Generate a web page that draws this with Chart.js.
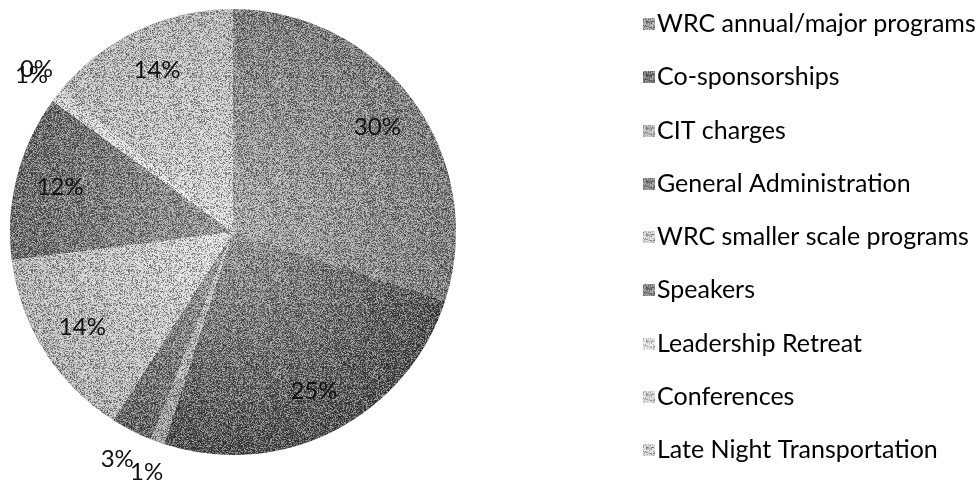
<!DOCTYPE html>
<html>
<head>
<meta charset="utf-8">
<title>WRC budget breakdown</title>
<script src="https://cdn.jsdelivr.net/npm/chart.js@4.4.1/dist/chart.umd.min.js"></script>
<style>
  html, body { margin: 0; padding: 0; background: #fff; }
  #wrap { width: 977px; height: 481px; position: relative; }
</style>
</head>
<body>
<div id="wrap"><canvas id="myChart"></canvas></div>
<script>
const categories = [
  "WRC annual/major programs",
  "Co-sponsorships",
  "CIT charges",
  "General Administration",
  "WRC smaller scale programs",
  "Speakers",
  "Leadership Retreat",
  "Conferences",
  "Late Night Transportation"
];
const shares = [30, 25, 1, 3, 14, 12, 1, 0, 14];
const shareLabels = ["30%", "25%", "1%", "3%", "14%", "12%", "1%", "0%", "14%"];

// grey shades: light toward the centre, darker at the rim
const innerGreys = ["#b2b2b2", "#9c9c9c", "#dadada", "#acacac", "#e8e8e8", "#a0a0a0", "#fafafa", "#f0f0f0", "#e2e2e2"];
const outerGreys = ["#7c7c7c", "#4a4a4a", "#9c9c9c", "#5e5e5e", "#b8b8b8", "#666666", "#d8d8d8", "#c4c4c4", "#bcbcbc"];
const swatchGreys = ["#969696", "#6a6a6a", "#b8b8b8", "#808080", "#d0d0d0", "#7c7c7c", "#e6e6e6", "#d8d8d8", "#d4d4d4"];

const FONT = "Lato, 'Open Sans', sans-serif";
const LEGEND_SIZE = 25;

// fixed grain texture, like the scanned print
function grain(px, py) {
  const s = Math.sin(px * 12.9898 + py * 78.233) * 43758.5453;
  return s - Math.floor(s);
}
function makeGrain(size, amount) {
  const c = document.createElement("canvas");
  c.width = size;
  c.height = size;
  const g = c.getContext("2d");
  const img = g.createImageData(size, size);
  for (let py = 0; py < size; py++) {
    for (let px = 0; px < size; px++) {
      const v = grain(px, py);
      const k = (py * size + px) * 4;
      const light = v > 0.5;
      img.data[k] = img.data[k + 1] = img.data[k + 2] = light ? 255 : 0;
      img.data[k + 3] = Math.round(Math.abs(v - 0.5) * 2 * amount * 255);
    }
  }
  g.putImageData(img, 0, 0);
  return c;
}
const grainTile = makeGrain(97, 0.5);

function sliceFill(context) {
  const i = context.dataIndex;
  const area = context.chart.chartArea;
  if (!area) return swatchGreys[i];
  const cx = (area.left + area.right) / 2;
  const cy = (area.top + area.bottom) / 2;
  const r = Math.min(area.width, area.height) / 2;
  const g = context.chart.ctx.createRadialGradient(cx, cy, 0, cx, cy, r);
  g.addColorStop(0, innerGreys[i]);
  g.addColorStop(1, outerGreys[i]);
  return g;
}

// small grainy squares for the legend, placed at the right of a wider image
function makeSwatch(color) {
  const w = 22;
  const c = document.createElement("canvas");
  c.width = w;
  c.height = 12;
  const x = c.getContext("2d");
  x.fillStyle = color;
  x.fillRect(w - 12, 0, 12, 12);
  x.fillStyle = x.createPattern(grainTile, "repeat");
  x.fillRect(w - 12, 0, 12, 12);
  return c;
}
const swatches = swatchGreys.map(makeSwatch);

// put the pie on the left and the legend column on the right
const placeBoxes = {
  id: "placeBoxes",
  afterLayout(chart) {
    chart.chartArea = { left: 10, top: 9, right: 456, bottom: 455, width: 446, height: 446 };
    const lg = chart.legend;
    const pad = lg.options.labels.padding;
    lg.left = 643.5 - pad;
    lg.right = 977;
    lg.top = 24 - LEGEND_SIZE / 2 - pad;
    lg.bottom = 600;
  }
};

const pieGrain = {
  id: "pieGrain",
  afterDatasetsDraw(chart) {
    const arc = chart.getDatasetMeta(0).data[0];
    if (!arc) return;
    const p = arc.getProps(["x", "y", "outerRadius"], true);
    const ctx = chart.ctx;
    ctx.save();
    ctx.beginPath();
    ctx.arc(p.x, p.y, p.outerRadius, 0, Math.PI * 2);
    ctx.fillStyle = ctx.createPattern(grainTile, "repeat");
    ctx.fill();
    ctx.restore();
  }
};

const pctLabels = {
  id: "pctLabels",
  afterDatasetsDraw(chart) {
    const ctx = chart.ctx;
    const arcs = chart.getDatasetMeta(0).data;
    ctx.save();
    ctx.font = "24px " + FONT;
    ctx.fillStyle = "#111";
    ctx.textAlign = "center";
    ctx.textBaseline = "middle";
    arcs.forEach((arc, i) => {
      const p = arc.getProps(["x", "y", "startAngle", "endAngle", "outerRadius"], true);
      const mid = (p.startAngle + p.endAngle) / 2;
      const d = shares[i] >= 5 ? p.outerRadius * 0.8 : p.outerRadius + 32;
      ctx.fillText(shareLabels[i], p.x + Math.cos(mid) * d, p.y + Math.sin(mid) * d);
    });
    ctx.restore();
  }
};

const ctx = document.getElementById("myChart").getContext("2d");
const myChart = new Chart(ctx, {
  type: "pie",
  data: {
    labels: categories,
    datasets: [
      {
        data: shares,
        backgroundColor: sliceFill,
        borderWidth: 0,
        hoverOffset: 0,
        offset: 0
      }
    ]
  },
  options: {
    responsive: true,
    maintainAspectRatio: false,
    devicePixelRatio: 1,
    animation: false,
    plugins: {
      tooltip: { enabled: false },
      legend: {
        position: "right",
        align: "start",
        labels: {
          usePointStyle: true,
          boxWidth: 1,
          padding: 53.25 - LEGEND_SIZE,
          color: "#000",
          font: { family: FONT, size: LEGEND_SIZE },
          generateLabels(chart) {
            const items = Chart.overrides.pie.plugins.legend.labels.generateLabels(chart);
            return items.map((it, i) => Object.assign(it, { pointStyle: swatches[i] }));
          }
        }
      }
    }
  },
  plugins: [placeBoxes, pieGrain, pctLabels]
});
</script>
</body>
</html>
